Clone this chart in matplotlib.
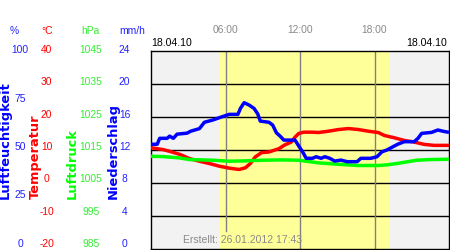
import matplotlib
matplotlib.use("Agg")
import matplotlib.pyplot as plt
from matplotlib.transforms import blended_transform_factory

# ---------------- data ----------------
hum_t = [0.0, 0.5, 0.7, 1.3, 1.5, 1.8, 2.1, 2.9, 3.2, 3.9, 4.3, 5.0, 5.5, 6.3, 7.0, 7.2, 7.5, 7.9,
         8.3, 8.6, 8.8, 9.5, 9.8, 10.1, 10.4, 10.7, 11.6, 11.9, 12.2, 12.5, 13.0, 13.3, 13.7, 14.0,
         14.4, 14.8, 15.3, 15.8, 16.6, 16.9, 17.7, 18.2, 18.6, 19.0, 19.5, 19.9, 20.4, 21.2, 21.5,
         21.8, 22.6, 23.1, 23.5, 24.0]
hum_v = [52.9, 52.9, 55.9, 55.9, 57.0, 55.9, 58.0, 58.5, 59.5, 60.8, 64.0, 65.2, 66.3, 68.0, 68.0,
         71.0, 73.9, 72.7, 71.0, 68.2, 64.6, 64.0, 62.6, 58.7, 57.0, 55.0, 55.0, 52.0, 49.2, 45.8,
         45.8, 46.6, 45.8, 46.6, 45.8, 44.4, 44.9, 44.1, 44.1, 45.8, 45.8, 46.6, 49.1, 50.0, 51.7,
         53.0, 54.2, 54.2, 55.9, 58.4, 58.9, 60.1, 59.5, 58.9]

temp_t = [0.0, 0.5, 1.0, 1.5, 2.3, 3.1, 3.9, 4.7, 5.5, 6.3, 7.1, 7.6, 8.0, 8.4, 8.9, 9.5, 10.3,
          10.8, 11.3, 11.6, 11.9, 12.3, 13.0, 13.5, 14.3, 15.1, 15.9, 16.7, 17.5, 18.3, 18.8, 19.6,
          20.4, 21.2, 22.0, 22.8, 24.0]
temp_v = [10.7, 10.4, 10.1, 9.6, 8.7, 7.4, 6.6, 5.9, 5.1, 4.5, 4.1, 4.6, 5.9, 7.9, 9.2, 9.4, 10.4,
          11.6, 12.4, 13.9, 15.0, 15.4, 15.4, 15.3, 15.7, 16.2, 16.5, 16.2, 15.7, 15.3, 14.4, 13.7,
          12.9, 12.4, 11.7, 11.4, 11.4]

pres_t = [0.0, 1.0, 2.3, 3.1, 5.0, 6.3, 7.5, 9.0, 10.5, 11.9, 12.5, 13.5, 15.0, 16.7, 18.3, 19.0,
          19.8, 20.6, 21.4, 22.5, 24.0]
pres_v = [1013.1, 1013.0, 1012.6, 1012.1, 1011.9, 1011.6, 1011.7, 1011.9, 1012.0, 1011.9, 1011.6,
          1011.1, 1010.7, 1010.3, 1010.3, 1010.5, 1010.9, 1011.4, 1011.9, 1012.1, 1012.2]

hum_ticks = ["100", "75", "50", "25", "0"]
hum_tick_vals = [100, 75, 50, 25, 0]
temp_ticks = ["40", "30", "20", "10", "0", "-10", "-20"]
pres_ticks = ["1045", "1035", "1025", "1015", "1005", "995", "985"]
prec_ticks = ["24", "20", "16", "12", "8", "4", "0"]
time_ticks = ["06:00", "12:00", "18:00"]
time_tick_vals = [6, 12, 18]
sunrise, sunset = 5.52, 19.23
date_label = "18.04.10"
created = "Erstellt: 26.01.2012 17:43"

BLUE = "#0000ff"
RED = "#ff0000"
GREEN = "#00ff00"
LBLUE = "#2222ff"
LGREEN = "#33ee33"

# ---------------- figure ----------------
fig = plt.figure(figsize=(4.5, 2.5), dpi=100)
W, H = 450, 250
ax = fig.add_axes([151 / W, 1 / H, 298 / W, 198 / H])
ax.set_xlim(0, 24)
ax.set_ylim(-20, 40)
ax.set_facecolor("#f2f2f2")
ax.axvspan(sunrise, sunset, color="#ffff99", zorder=0, lw=0)
for v in range(-10, 40, 10):
    ax.axhline(v, color="black", lw=1.0, zorder=1)
for tv in time_tick_vals:
    # the "Erstellt" caption box hides the lower end of lines it covers
    ymin = 0.09 if tv < 11.6 else 0.0
    ax.axvline(tv, ymin=ymin, color="#808080", lw=1.0, zorder=1)
ax.set_xticks([])
ax.set_yticks([])
for s in ax.spines.values():
    s.set_color("black")
    s.set_linewidth(1.0)

ax_p = ax.twinx()
ax_p.set_ylim(985, 1045)
ax_h = ax.twinx()
ax_h.set_ylim(0, 100)
for a in (ax_p, ax_h):
    a.set_xlim(0, 24)
    a.set_yticks([])
    a.set_xticks([])
    for s in a.spines.values():
        s.set_visible(False)

ax_p.plot(pres_t, pres_v, color=GREEN, lw=2.5, solid_capstyle="butt", zorder=3)
ax.plot(temp_t, temp_v, color=RED, lw=2.5, solid_capstyle="butt", zorder=4)
ax_h.plot(hum_t, hum_v, color=BLUE, lw=2.5, solid_capstyle="butt", zorder=5)

ax.text(0.108, 0.045, created, transform=ax.transAxes, fontsize=7.5,
        family="Liberation Sans", color="#8a8a8a", va="center", ha="left", zorder=6)

# ---------------- labels left ----------------
def ylab(frac):
    return (250 - 244 + frac * 194) / 250

tf = fig.transFigure
fs = 7.4
for lab, v in zip(hum_ticks, hum_tick_vals):
    fig.text(20 / W, ylab(v / 100), lab, color=LBLUE, fontsize=fs, family="Liberation Sans",
             ha="center", va="center")
for i, lab in enumerate(temp_ticks):
    fr = 1 - i / 6
    fig.text(46.5 / W, ylab(fr), lab, color=RED, fontsize=fs, family="Liberation Sans",
             ha="center", va="center")
    fig.text(91 / W, ylab(fr), pres_ticks[i], color=LGREEN, fontsize=fs, family="Liberation Sans",
             ha="center", va="center")
    fig.text(124.5 / W, ylab(fr), prec_ticks[i], color=LBLUE, fontsize=fs, family="Liberation Sans",
             ha="center", va="center")

uy = (250 - 30.7) / 250
fig.text(14 / W, uy, "%", color=LBLUE, fontsize=fs, family="Liberation Sans", ha="center", va="center")
fig.text(46.7 / W, uy, "°C", color=RED, fontsize=fs, family="Liberation Sans", ha="center", va="center")
fig.text(90.3 / W, uy, "hPa", color=LGREEN, fontsize=fs, family="Liberation Sans", ha="center", va="center")
fig.text(132.5 / W, uy, "mm/h", color=LBLUE, fontsize=fs, family="Liberation Sans", ha="center", va="center")

by = (250 - 199) / 250
bfs = 9.4
fig.text(5.5 / W, by, "Luftfeuchtigkeit", color=BLUE, fontsize=bfs, fontweight="bold",
         family="DejaVu Sans", rotation=90, ha="center", va="bottom")
fig.text(35.5 / W, by, "Temperatur", color=RED, fontsize=bfs, fontweight="bold",
         family="DejaVu Sans", rotation=90, ha="center", va="bottom")
fig.text(72 / W, by, "Luftdruck", color=GREEN, fontsize=bfs, fontweight="bold",
         family="DejaVu Sans", rotation=90, ha="center", va="bottom")
fig.text(113 / W, by, "Niederschlag", color=BLUE, fontsize=bfs, fontweight="bold",
         family="DejaVu Sans", rotation=90, ha="center", va="bottom")

# ---------------- top labels ----------------
bt = blended_transform_factory(ax.transData, tf)
for lab, tv in zip(time_ticks, time_tick_vals):
    fig.text(tv, (250 - 30) / 250, lab, transform=bt, color="#8a8a8a", fontsize=fs,
             family="Liberation Sans", ha="center", va="center")
dy = (250 - 43.3) / 250
fig.text(151 / W, dy, date_label, color="black", fontsize=7.6, family="Liberation Sans",
         ha="left", va="center")
fig.text(447 / W, dy, date_label, color="black", fontsize=7.6, family="Liberation Sans",
         ha="right", va="center")

fig.savefig("out.png", dpi=100)
